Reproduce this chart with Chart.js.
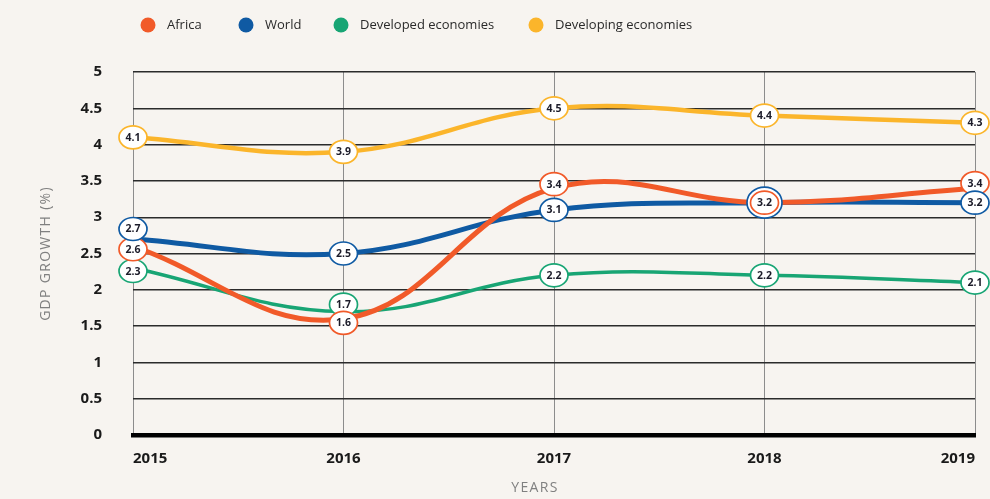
<!DOCTYPE html>
<html><head><meta charset="utf-8">
<script src="https://cdn.jsdelivr.net/npm/chart.js@4"></script>
<style>html,body{margin:0;padding:0;background:#f7f4f0}#wrap{width:990px;height:499px}</style>
</head><body><div id="wrap"><canvas id="c" width="990" height="499"></canvas></div>
<script>
// GDP growth (%) by year
const years = ['2015', '2016', '2017', '2018', '2019'];
const africa = [2.6, 1.6, 3.4, 3.2, 3.4];
const world = [2.7, 2.5, 3.1, 3.2, 3.2];
const developed = [2.3, 1.7, 2.2, 2.2, 2.1];
const developing = [4.1, 3.9, 4.5, 4.4, 4.3];
const seriesNames = ['Africa', 'World', 'Developed economies', 'Developing economies'];
const yTicks = [0, 0.5, 1, 1.5, 2, 2.5, 3, 3.5, 4, 4.5, 5];

const colors = ['#f15a29', '#0f5aa3', '#18a574', '#fbb52b'];
const widths = [5, 5, 3.5, 4.5];
const FONT = '"Open Sans", "Noto Sans", sans-serif';

const seriesValues = [africa, world, developed, developing];

// vertical nudges (px) for value badges that would otherwise collide
const badgeNudge = { '1-0': -10, '0-0': 3, '2-0': 3, '2-1': -7, '0-1': 4, '0-2': -4, '0-4': -5 };
// stacking order of value badges (bottom to top)
const badgeOrder = [3, 2, 0, 1];

const decor = {
  id: 'decor',
  beforeDraw(chart) {
    const ctx = chart.ctx;
    ctx.save();
    ctx.fillStyle = '#f7f4f0';
    ctx.fillRect(0, 0, chart.width, chart.height);
    ctx.restore();
  },
  afterDraw(chart) {
    const ctx = chart.ctx;
    const area = chart.chartArea;
    ctx.save();
    // legend
    const legendX = [148, 246, 341, 536];
    ctx.font = '13px ' + FONT;
    ctx.textBaseline = 'middle';
    ctx.textAlign = 'left';
    chart.data.datasets.forEach((ds, i) => {
      ctx.beginPath();
      ctx.arc(legendX[i], 25, 7.5, 0, Math.PI * 2);
      ctx.fillStyle = ds.borderColor;
      ctx.fill();
      ctx.fillStyle = '#2a2a2a';
      ctx.fillText(ds.label, legendX[i] + 19, 25);
    });
    // axis titles
    ctx.fillStyle = '#808080';
    ctx.font = '14px ' + FONT;
    ctx.letterSpacing = '1.3px';
    ctx.textAlign = 'center';
    ctx.fillText('YEARS', 535, 488);
    ctx.translate(46, (area.top + area.bottom) / 2);
    ctx.rotate(-Math.PI / 2);
    ctx.fillText('GDP GROWTH (%)', 0, 0);
    ctx.restore();
  },
  afterDatasetsDraw(chart) {
    const ctx = chart.ctx;
    const xs = chart.scales.x, ys = chart.scales.y;
    const sets = chart.data.datasets;
    ctx.save();
    ctx.textAlign = 'center';
    ctx.textBaseline = 'middle';
    ctx.font = 'bold 10.5px ' + FONT;
    const badge = (x, y, rx, ry, color, text) => {
      ctx.beginPath();
      ctx.ellipse(x, y, rx, ry, 0, 0, Math.PI * 2);
      ctx.fillStyle = '#ffffff';
      ctx.fill();
      ctx.lineWidth = 1.7;
      ctx.strokeStyle = color;
      ctx.stroke();
      if (text) {
        ctx.fillStyle = '#1c1c2a';
        ctx.fillText(text, x, y + 0.5);
      }
    };
    for (let j = 0; j < chart.data.labels.length; j++) {
      const x = xs.getPixelForValue(j);
      const done = new Set();
      badgeOrder.forEach(i => {
        if (done.has(i)) return;
        const v = sets[i].data[j];
        const y = ys.getPixelForValue(v) + (badgeNudge[i + '-' + j] || 0);
        // series sharing the same value get one badge with nested rings
        const same = badgeOrder.filter(k => sets[k].data[j] === v && !done.has(k));
        same.forEach(k => done.add(k));
        if (same.length > 1) {
          const outer = same[same.length - 1];
          badge(x, y, 17.5, 15.5, sets[outer].borderColor, null);
          badge(x, y, 14, 11.5, sets[same[0]].borderColor, v.toFixed(1));
        } else {
          badge(x, y, 14, 11.5, sets[i].borderColor, v.toFixed(1));
        }
      });
    }
    ctx.restore();
  }
};

new Chart(document.getElementById('c'), {
  type: 'line',
  data: {
    labels: years,
    datasets: seriesValues.map((vals, i) => ({
      label: seriesNames[i],
      data: vals,
      borderColor: colors[i],
      backgroundColor: colors[i],
      borderWidth: widths[i],
      tension: 0.4,
      pointRadius: 0,
      pointHoverRadius: 0,
      fill: false,
      clip: false
    }))
  },
  options: {
    responsive: false,
    devicePixelRatio: 1,
    animation: false,
    layout: { padding: { top: 72, right: 13, left: 0, bottom: 0 } },
    plugins: { legend: { display: false }, tooltip: { enabled: false } },
    scales: {
      x: {
        offset: false,
        grid: { color: '#8c8c8c', lineWidth: 1, drawTicks: false },
        border: { display: true, color: '#000000', width: 4.5 },
        ticks: {
          align: 'inner',
          padding: 15,
          color: '#1a1a1a',
          font: { family: FONT, size: 15, weight: 'bold' },
          maxRotation: 0
        },
        afterFit(scale) { scale.height = 64; }
      },
      y: {
        min: 0, max: 5,
        afterBuildTicks(scale) { scale.ticks = yTicks.map(v => ({ value: v })); },
        grid: { color: '#2b2b2b', lineWidth: 1.4, drawTicks: false },
        border: { display: false },
        ticks: {
          padding: 31,
          color: '#1a1a1a',
          font: { family: FONT, size: 15, weight: 'bold' },
          callback: v => String(v)
        },
        afterFit(scale) { scale.width = 133; }
      }
    }
  },
  plugins: [decor]
});
</script>
</body></html>
